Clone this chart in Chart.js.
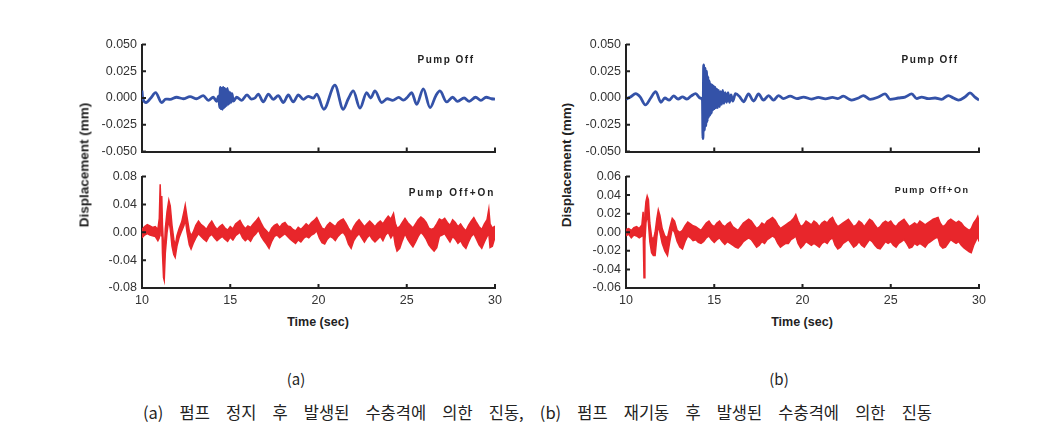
<!DOCTYPE html>
<html>
<head>
<meta charset="utf-8">
<script src="https://cdn.jsdelivr.net/npm/chart.js@4.4.1/dist/chart.umd.min.js"></script>
<style>
  body { margin: 0; background: #fff; width: 1064px; height: 443px; position: relative; overflow: hidden; font-family: "Liberation Sans", Arial, sans-serif; color: #222; }
  .box { position: absolute; }
  .txt { position: absolute; white-space: nowrap; transform: translate(-50%, -50%); }
  .ytitle { font-weight: bold; font-size: 13.5px; transform: translate(-50%, -50%) rotate(-90deg); }
  .xtitle { font-weight: bold; font-size: 12.5px; }
  .tag { font-weight: bold; font-size: 10px; letter-spacing: 1.5px; }
  .sub { font-family: "Noto Sans CJK KR", sans-serif; font-size: 15px; }
  .caption { position: absolute; left: 143px; width: 789px; top: 400px; font-family: "Noto Sans CJK KR", sans-serif; font-size: 16.5px; text-align: justify; text-align-last: justify; white-space: nowrap; line-height: 24px; }
</style>
</head>
<body>
<div class="box" style="left:90px; top:32px; width:420px; height:132px;"><canvas id="aTop" width="420" height="132"></canvas></div>
<div class="box" style="left:90px; top:164px; width:420px; height:146px;"><canvas id="aBot" width="420" height="146"></canvas></div>
<div class="box" style="left:574px; top:32px; width:420px; height:132px;"><canvas id="bTop" width="420" height="132"></canvas></div>
<div class="box" style="left:574px; top:164px; width:420px; height:146px;"><canvas id="bBot" width="420" height="146"></canvas></div>

<div class="txt ytitle" style="left:84px; top:165px;">Displacement (mm)</div>
<div class="txt ytitle" style="left:566px; top:165px;">Displacement (mm)</div>
<div class="txt xtitle" style="left:318px; top:322px;">Time (sec)</div>
<div class="txt xtitle" style="left:802px; top:322px;">Time (sec)</div>
<div class="txt tag" style="left:446px; top:59px;">Pump Off</div>
<div class="txt tag" style="left:452px; top:192px; letter-spacing:2px;">Pump Off+On</div>
<div class="txt tag" style="left:930px; top:59px;">Pump Off</div>
<div class="txt tag" style="left:932px; top:190px; font-size:9px;">Pump Off+On</div>
<div class="txt sub" style="left:296px; top:378px;">(a)</div>
<div class="txt sub" style="left:779px; top:378px;">(b)</div>
<div class="caption">(a) 펌프 정지 후 발생된 수충격에 의한 진동, (b) 펌프 재기동 후 발생된 수충격에 의한 진동</div>

<script>
// --- axis ticks ---
const xTicks = [10, 15, 20, 25, 30];
const yTicksTop = [-0.05, -0.025, 0, 0.025, 0.05];
const yTicksBotA = [-0.08, -0.04, 0, 0.04, 0.08];
const yTicksBotB = [-0.06, -0.04, -0.02, 0, 0.02, 0.04, 0.06];

// --- (a) Pump Off : blue trace ---
const blueATime = [10.00, 10.03, 10.23, 10.50, 10.77, 11.11, 11.35, 11.59, 11.96, 12.34, 12.72, 13.10, 13.47, 13.76, 14.04, 14.23,
  14.35, 14.40, 14.44, 14.48, 14.52, 14.56, 14.60, 14.64, 14.68, 14.72, 14.76, 14.80, 14.84, 14.88, 14.92, 14.96, 15.00, 15.05, 15.10, 15.17,
  15.36, 15.65, 15.95, 16.20, 16.40, 16.59, 16.87, 17.16, 17.44, 17.72, 18.01, 18.29, 18.57, 18.86, 19.14, 19.42, 19.71, 19.90,
  20.30, 20.93, 21.40, 21.69, 21.97, 22.35, 22.73, 22.95, 23.20, 23.58, 23.90, 24.20, 24.55, 24.80, 25.05, 25.28, 25.56, 25.94,
  26.32, 26.65, 26.88, 27.26, 27.60, 27.88, 28.25, 28.54, 28.90, 29.20, 29.50, 29.80, 30.00];
const blueAVal = [0.0070, 0.0010, -0.0042, 0.0000, 0.0051, -0.0042, -0.0010, -0.0013, 0.0007, -0.0007, 0.0013, -0.0007, 0.0022, -0.0022, 0.0007, -0.0031,
  0.0020, -0.0090, 0.0100, -0.0100, 0.0090, -0.0105, 0.0100, -0.0090, 0.0090, -0.0080, 0.0080, -0.0070, 0.0090, -0.0060, 0.0060, -0.0050, 0.0050, -0.0040, 0.0040, -0.0030,
  0.0007, -0.0022, 0.0030, -0.0010, 0.0000, 0.0037, -0.0037, 0.0037, -0.0013, 0.0022, -0.0042, 0.0028, -0.0037, 0.0028, -0.0013, 0.0016, -0.0001, 0.0037,
  -0.0105, 0.0120, -0.0105, -0.0007, 0.0066, -0.0095, 0.0051, 0.0000, 0.0066, -0.0042, -0.0007, -0.0022, 0.0005, -0.0020, 0.0010, 0.0051, -0.0060, 0.0086,
  -0.0090, 0.0022, 0.0066, -0.0037, 0.0007, -0.0031, 0.0000, -0.0031, 0.0007, -0.0022, 0.0007, -0.0007, -0.0010];

// --- (b) Pump Off : blue trace ---
const blueBTime = [10.00, 10.25, 10.55, 10.80, 11.10, 11.40, 11.68, 11.98, 12.20, 12.45, 12.70, 12.95, 13.20, 13.45, 13.70, 13.95, 14.20, 14.33,
  14.36, 14.40, 14.44, 14.48, 14.52, 14.56, 14.60, 14.64, 14.68, 14.72, 14.76, 14.80, 14.84, 14.88, 14.92, 14.96, 15.00, 15.05, 15.10, 15.15,
  15.20, 15.25, 15.30, 15.36, 15.42, 15.48, 15.55, 15.62, 15.70, 15.78, 15.86, 15.95, 16.05,
  16.20, 16.45, 16.66, 16.94, 17.23, 17.51, 17.79, 18.08, 18.36, 18.64, 18.92, 19.30, 19.68, 20.06, 20.50, 20.90, 21.30, 21.70, 22.00,
  22.32, 22.60, 22.79, 23.17, 23.45, 23.83, 24.30, 24.68, 24.96, 25.43, 25.81, 26.19, 26.47, 26.75, 27.13, 27.51, 27.88, 28.26, 28.55,
  28.83, 29.20, 29.49, 29.77, 30.00];
const blueBVal = [-0.0010, 0.0010, 0.0040, 0.0010, -0.0065, 0.0000, 0.0060, -0.0040, 0.0000, -0.0020, 0.0020, -0.0010, 0.0010, -0.0010, 0.0020, 0.0040, 0.0000, -0.0020,
  -0.0380, 0.0310, -0.0300, 0.0280, -0.0260, 0.0250, -0.0220, 0.0200, -0.0180, 0.0160, -0.0160, 0.0130, -0.0140, 0.0120, -0.0110, 0.0110, -0.0100, 0.0100, -0.0090, 0.0080,
  -0.0090, 0.0070, -0.0080, 0.0060, -0.0060, 0.0070, -0.0050, 0.0050, -0.0040, 0.0050, -0.0040, 0.0030, -0.0030,
  0.0040, 0.0010, -0.0035, 0.0038, -0.0029, 0.0038, -0.0020, 0.0023, -0.0020, 0.0023, -0.0006, 0.0018, -0.0006, 0.0009, -0.0010, 0.0005, -0.0008, 0.0005, -0.0005,
  0.0018, -0.0008, -0.0020, 0.0000, 0.0023, -0.0012, 0.0009, 0.0038, -0.0012, 0.0000, 0.0009, 0.0038, -0.0006, 0.0009, -0.0006, 0.0000, -0.0012, 0.0023, 0.0000,
  -0.0020, 0.0009, 0.0047, 0.0009, -0.0020];

// --- (a) Pump Off+On : red trace, upper / lower edge of the noise band ---
const redATime = [10.00, 10.15, 10.30, 10.45, 10.60, 10.75, 10.90, 10.98, 11.03, 11.08, 11.12, 11.16, 11.22, 11.26, 11.32, 11.42, 11.52, 11.60, 11.70, 11.80, 11.88, 11.98,
  12.10, 12.25, 12.38, 12.45, 12.55, 12.68, 12.78, 12.90, 13.05, 13.20, 13.35, 13.50, 13.65, 13.80, 13.95, 14.10, 14.25, 14.40, 14.55, 14.70, 14.85,
  15.00, 15.15, 15.30, 15.45, 15.55, 15.70, 15.85, 16.00, 16.15, 16.30, 16.45, 16.60, 16.75, 16.90, 17.05, 17.20, 17.35, 17.50, 17.65, 17.80, 17.95,
  18.10, 18.25, 18.40, 18.55, 18.70, 18.85, 19.00, 19.15, 19.30, 19.45, 19.60, 19.75, 19.90, 20.05, 20.20, 20.35, 20.50, 20.65, 20.80, 20.95,
  21.10, 21.25, 21.40, 21.55, 21.70, 21.85, 22.00, 22.15, 22.30, 22.45, 22.60, 22.75, 22.90, 23.05, 23.20, 23.35, 23.50, 23.65, 23.80, 23.95,
  24.10, 24.25, 24.35, 24.45, 24.60, 24.75, 24.90, 25.05, 25.20, 25.35, 25.50, 25.65, 25.80, 25.95, 26.10, 26.25, 26.40, 26.55, 26.70, 26.85,
  27.00, 27.15, 27.30, 27.45, 27.60, 27.75, 27.90, 28.05, 28.20, 28.35, 28.50, 28.65, 28.80, 28.95, 29.10, 29.25, 29.40, 29.55, 29.65, 29.72, 29.85, 30.00];
const redAHigh = [0.004, 0.008, 0.011, 0.009, 0.007, 0.008, 0.004, 0.020, 0.069, 0.030, 0.052, 0.010, -0.020, -0.030, 0.005, 0.030, 0.046, 0.038, 0.010, -0.010, -0.020, -0.005,
  0.005, 0.015, 0.030, 0.039, 0.022, 0.002, -0.005, 0.000, 0.010, 0.016, 0.011, 0.008, 0.004, 0.011, 0.016, 0.009, 0.004, 0.008, 0.011, 0.006, 0.003,
  0.008, 0.005, 0.012, 0.015, 0.017, 0.010, 0.005, 0.009, 0.007, 0.012, 0.016, 0.021, 0.013, 0.006, 0.002, -0.002, 0.006, 0.010, 0.012, 0.007, 0.012,
  0.014, 0.009, 0.008, 0.004, 0.002, 0.007, 0.004, 0.008, 0.012, 0.009, 0.014, 0.017, 0.021, 0.013, 0.006, 0.004, 0.010, 0.014, 0.011, 0.008,
  0.014, 0.017, 0.019, 0.013, 0.006, 0.000, 0.008, 0.014, 0.018, 0.013, 0.008, 0.012, 0.016, 0.012, 0.008, 0.013, 0.016, 0.012, 0.018, 0.023,
  0.019, 0.027, 0.013, 0.006, 0.008, 0.014, 0.020, 0.014, 0.010, 0.006, 0.012, 0.018, 0.022, 0.019, 0.014, 0.006, 0.004, 0.006, 0.012, 0.019,
  0.017, 0.020, 0.014, 0.010, 0.018, 0.014, 0.008, 0.012, 0.006, 0.002, 0.010, 0.016, 0.021, 0.014, 0.008, 0.004, 0.012, 0.018, 0.033, 0.012, 0.006, 0.009];
const redALow = [-0.008, -0.004, -0.002, -0.004, -0.005, -0.006, -0.012, -0.008, 0.040, -0.005, 0.020, -0.030, -0.065, -0.069, -0.030, 0.000, 0.018, 0.005, -0.020, -0.032, -0.036, -0.020,
  -0.008, 0.002, 0.010, 0.020, 0.000, -0.018, -0.024, -0.016, -0.008, -0.002, -0.006, -0.010, -0.013, -0.006, -0.003, -0.008, -0.012, -0.009, -0.006, -0.010, -0.013,
  -0.007, -0.011, -0.005, -0.002, 0.000, -0.008, -0.012, -0.009, -0.013, -0.006, -0.002, 0.003, -0.006, -0.012, -0.017, -0.023, -0.013, -0.006, -0.004, -0.008, -0.005,
  -0.002, -0.006, -0.010, -0.013, -0.016, -0.011, -0.014, -0.009, -0.006, -0.008, -0.004, -0.002, 0.002, -0.008, -0.015, -0.017, -0.010, -0.006, -0.008, -0.012,
  -0.006, -0.002, 0.000, -0.006, -0.017, -0.023, -0.012, -0.006, -0.002, -0.008, -0.014, -0.008, -0.004, -0.010, -0.014, -0.010, -0.006, -0.012, -0.004, 0.000,
  -0.008, -0.002, -0.018, -0.027, -0.023, -0.012, -0.002, -0.010, -0.016, -0.021, -0.014, -0.006, 0.000, -0.004, -0.010, -0.018, -0.023, -0.027, -0.022, -0.006,
  -0.004, -0.002, -0.008, -0.014, -0.006, -0.010, -0.016, -0.012, -0.019, -0.023, -0.014, -0.006, -0.002, -0.010, -0.018, -0.023, -0.014, -0.006, -0.002, -0.022, -0.020, -0.007];

// --- (b) Pump Off+On : red trace, upper / lower edge of the noise band ---
const redBTime = [10.00, 10.15, 10.30, 10.45, 10.60, 10.75, 10.90, 10.97, 11.02, 11.07, 11.13, 11.20, 11.27, 11.35, 11.45, 11.55, 11.65, 11.75, 11.83, 11.92,
  12.05, 12.20, 12.35, 12.48, 12.62, 12.75, 12.90, 13.05, 13.20, 13.35, 13.50, 13.65, 13.80, 13.95, 14.10, 14.25, 14.40, 14.55, 14.70, 14.85,
  15.00, 15.15, 15.30, 15.45, 15.60, 15.75, 15.90, 16.05, 16.20, 16.35, 16.50, 16.65, 16.80, 16.95, 17.10, 17.25, 17.40, 17.55, 17.70, 17.85,
  18.00, 18.15, 18.30, 18.45, 18.60, 18.75, 18.90, 19.05, 19.20, 19.35, 19.50, 19.62, 19.75, 19.90, 20.05, 20.20, 20.35, 20.50, 20.65, 20.80, 20.95,
  21.10, 21.25, 21.40, 21.55, 21.70, 21.85, 22.00, 22.15, 22.30, 22.45, 22.60, 22.75, 22.90, 23.05, 23.20, 23.35, 23.50, 23.65, 23.80, 23.95,
  24.10, 24.25, 24.40, 24.55, 24.70, 24.85, 25.00, 25.15, 25.30, 25.45, 25.60, 25.75, 25.90, 26.05, 26.20, 26.35, 26.50, 26.65, 26.80, 26.95,
  27.10, 27.25, 27.40, 27.55, 27.68, 27.80, 27.95, 28.10, 28.25, 28.40, 28.55, 28.70, 28.85, 29.00, 29.15, 29.30, 29.45, 29.56, 29.70, 29.85, 29.93, 30.00];
const redBHigh = [0.003, 0.004, 0.002, 0.005, 0.006, 0.004, 0.008, 0.022, 0.000, 0.020, 0.033, 0.039, 0.035, 0.010, -0.005, -0.008, 0.000, 0.015, 0.024, 0.018,
  0.004, -0.004, -0.006, 0.005, 0.015, 0.012, 0.002, 0.000, 0.002, 0.007, 0.011, 0.009, 0.007, 0.006, 0.004, 0.002, 0.006, 0.010, 0.012, 0.008,
  0.006, 0.010, 0.012, 0.008, 0.006, 0.009, 0.011, 0.006, 0.004, 0.002, 0.006, 0.010, 0.012, 0.014, 0.012, 0.008, 0.004, 0.006, 0.010, 0.008,
  0.012, 0.014, 0.016, 0.013, 0.008, 0.004, 0.006, 0.008, 0.010, 0.012, 0.015, 0.019, 0.012, 0.006, 0.008, 0.012, 0.010, 0.008, 0.012, 0.010, 0.006,
  0.010, 0.012, 0.010, 0.014, 0.016, 0.010, 0.006, 0.008, 0.010, 0.012, 0.014, 0.010, 0.006, 0.008, 0.012, 0.010, 0.006, 0.010, 0.014, 0.012,
  0.008, 0.004, 0.006, 0.010, 0.012, 0.010, 0.012, 0.008, 0.006, 0.010, 0.012, 0.014, 0.010, 0.006, 0.008, 0.010, 0.008, 0.012, 0.010, 0.008,
  0.010, 0.012, 0.014, 0.015, 0.016, 0.010, 0.006, 0.008, 0.012, 0.014, 0.012, 0.010, 0.012, 0.010, 0.006, 0.004, 0.002, 0.004, 0.010, 0.014, 0.017, 0.012];
const redBLow = [-0.004, -0.002, -0.006, -0.003, -0.004, -0.006, -0.004, 0.004, -0.049, -0.010, 0.010, 0.020, 0.010, -0.010, -0.022, -0.025, -0.025, -0.005, 0.008, 0.000,
  -0.012, -0.020, -0.025, -0.010, 0.004, 0.000, -0.010, -0.016, -0.018, -0.010, -0.004, -0.006, -0.009, -0.008, -0.011, -0.012, -0.010, -0.006, -0.004, -0.008,
  -0.011, -0.008, -0.006, -0.010, -0.013, -0.010, -0.012, -0.014, -0.016, -0.017, -0.014, -0.010, -0.008, -0.006, -0.008, -0.012, -0.016, -0.014, -0.010, -0.012,
  -0.008, -0.006, -0.004, -0.006, -0.012, -0.016, -0.014, -0.012, -0.012, -0.008, -0.006, -0.004, -0.012, -0.017, -0.014, -0.010, -0.012, -0.014, -0.012, -0.014, -0.016,
  -0.012, -0.010, -0.012, -0.008, -0.006, -0.014, -0.018, -0.016, -0.012, -0.010, -0.008, -0.012, -0.016, -0.014, -0.010, -0.014, -0.016, -0.012, -0.008, -0.010,
  -0.014, -0.017, -0.018, -0.014, -0.010, -0.012, -0.010, -0.014, -0.016, -0.012, -0.010, -0.008, -0.012, -0.017, -0.016, -0.012, -0.014, -0.012, -0.014, -0.016,
  -0.012, -0.010, -0.008, -0.006, -0.006, -0.014, -0.017, -0.016, -0.012, -0.008, -0.010, -0.012, -0.010, -0.014, -0.017, -0.019, -0.021, -0.022, -0.014, -0.008, -0.004, -0.010];

const BLUE = '#3452a8';
const RED = '#e8262b';
const AXIS = '#222';

function pts(times, vals) {
  return times.map((t, i) => ({ x: t, y: vals[i] }));
}

// short tick marks pointing into the plot, like the original figure
const innerTicks = {
  id: 'innerTicks',
  afterDraw(chart) {
    const { ctx, chartArea: a, scales } = chart;
    ctx.save();
    ctx.strokeStyle = AXIS;
    ctx.lineWidth = 2;
    ctx.beginPath();
    xTicks.forEach(v => {
      const px = scales.x.getPixelForValue(v);
      ctx.moveTo(px, a.bottom);
      ctx.lineTo(px, a.bottom - 4);
    });
    scales.y.ticks.forEach(t => {
      const py = scales.y.getPixelForValue(t.value);
      ctx.moveTo(a.left, py);
      ctx.lineTo(a.left + 4, py);
    });
    ctx.stroke();
    ctx.restore();
  }
};

function makeChart(id, datasets, yTicks, decimals, showX) {
  const tickFont = { family: 'Liberation Sans', size: 12.5 };
  return new Chart(document.getElementById(id), {
    type: 'line',
    data: { datasets: datasets },
    plugins: [innerTicks],
    options: {
      responsive: false,
      animation: false,
      events: [],
      layout: { padding: { top: 10, right: 15, bottom: showX ? 0 : 8, left: 0 } },
      plugins: { legend: { display: false }, tooltip: { enabled: false } },
      elements: { point: { radius: 0 } },
      scales: {
        x: {
          type: 'linear',
          min: xTicks[0],
          max: xTicks[xTicks.length - 1],
          afterBuildTicks: s => { s.ticks = xTicks.map(v => ({ value: v })); },
          afterFit: s => { s.height = showX ? 22 : 0; },
          grid: { display: false, drawTicks: false },
          border: { display: true, color: AXIS, width: 2 },
          ticks: { display: showX, padding: 5, color: '#333', font: tickFont, maxRotation: 0, callback: v => String(v) }
        },
        y: {
          type: 'linear',
          min: yTicks[0],
          max: yTicks[yTicks.length - 1],
          afterBuildTicks: s => { s.ticks = yTicks.map(v => ({ value: v })); },
          afterFit: s => { s.width = 52; },
          grid: { display: false, drawTicks: false },
          border: { display: true, color: AXIS, width: 2 },
          ticks: { padding: 5, color: '#333', font: tickFont, callback: v => v.toFixed(decimals) }
        }
      }
    }
  });
}

function blueSet(times, vals) {
  return [{
    data: pts(times, vals),
    borderColor: BLUE,
    borderWidth: 2.8,
    cubicInterpolationMode: 'monotone',
    fill: false
  }];
}

function redSet(times, hi, lo) {
  return [
    { data: pts(times, lo), borderColor: RED, borderWidth: 1.5, tension: 0, fill: false },
    { data: pts(times, hi), borderColor: RED, borderWidth: 1.5, tension: 0, fill: '-1', backgroundColor: RED }
  ];
}

makeChart('aTop', blueSet(blueATime, blueAVal), yTicksTop, 3, false);
makeChart('aBot', redSet(redATime, redAHigh, redALow), yTicksBotA, 2, true);
makeChart('bTop', blueSet(blueBTime, blueBVal), yTicksTop, 3, false);
makeChart('bBot', redSet(redBTime, redBHigh, redBLow), yTicksBotB, 2, true);
</script>
</body>
</html>
